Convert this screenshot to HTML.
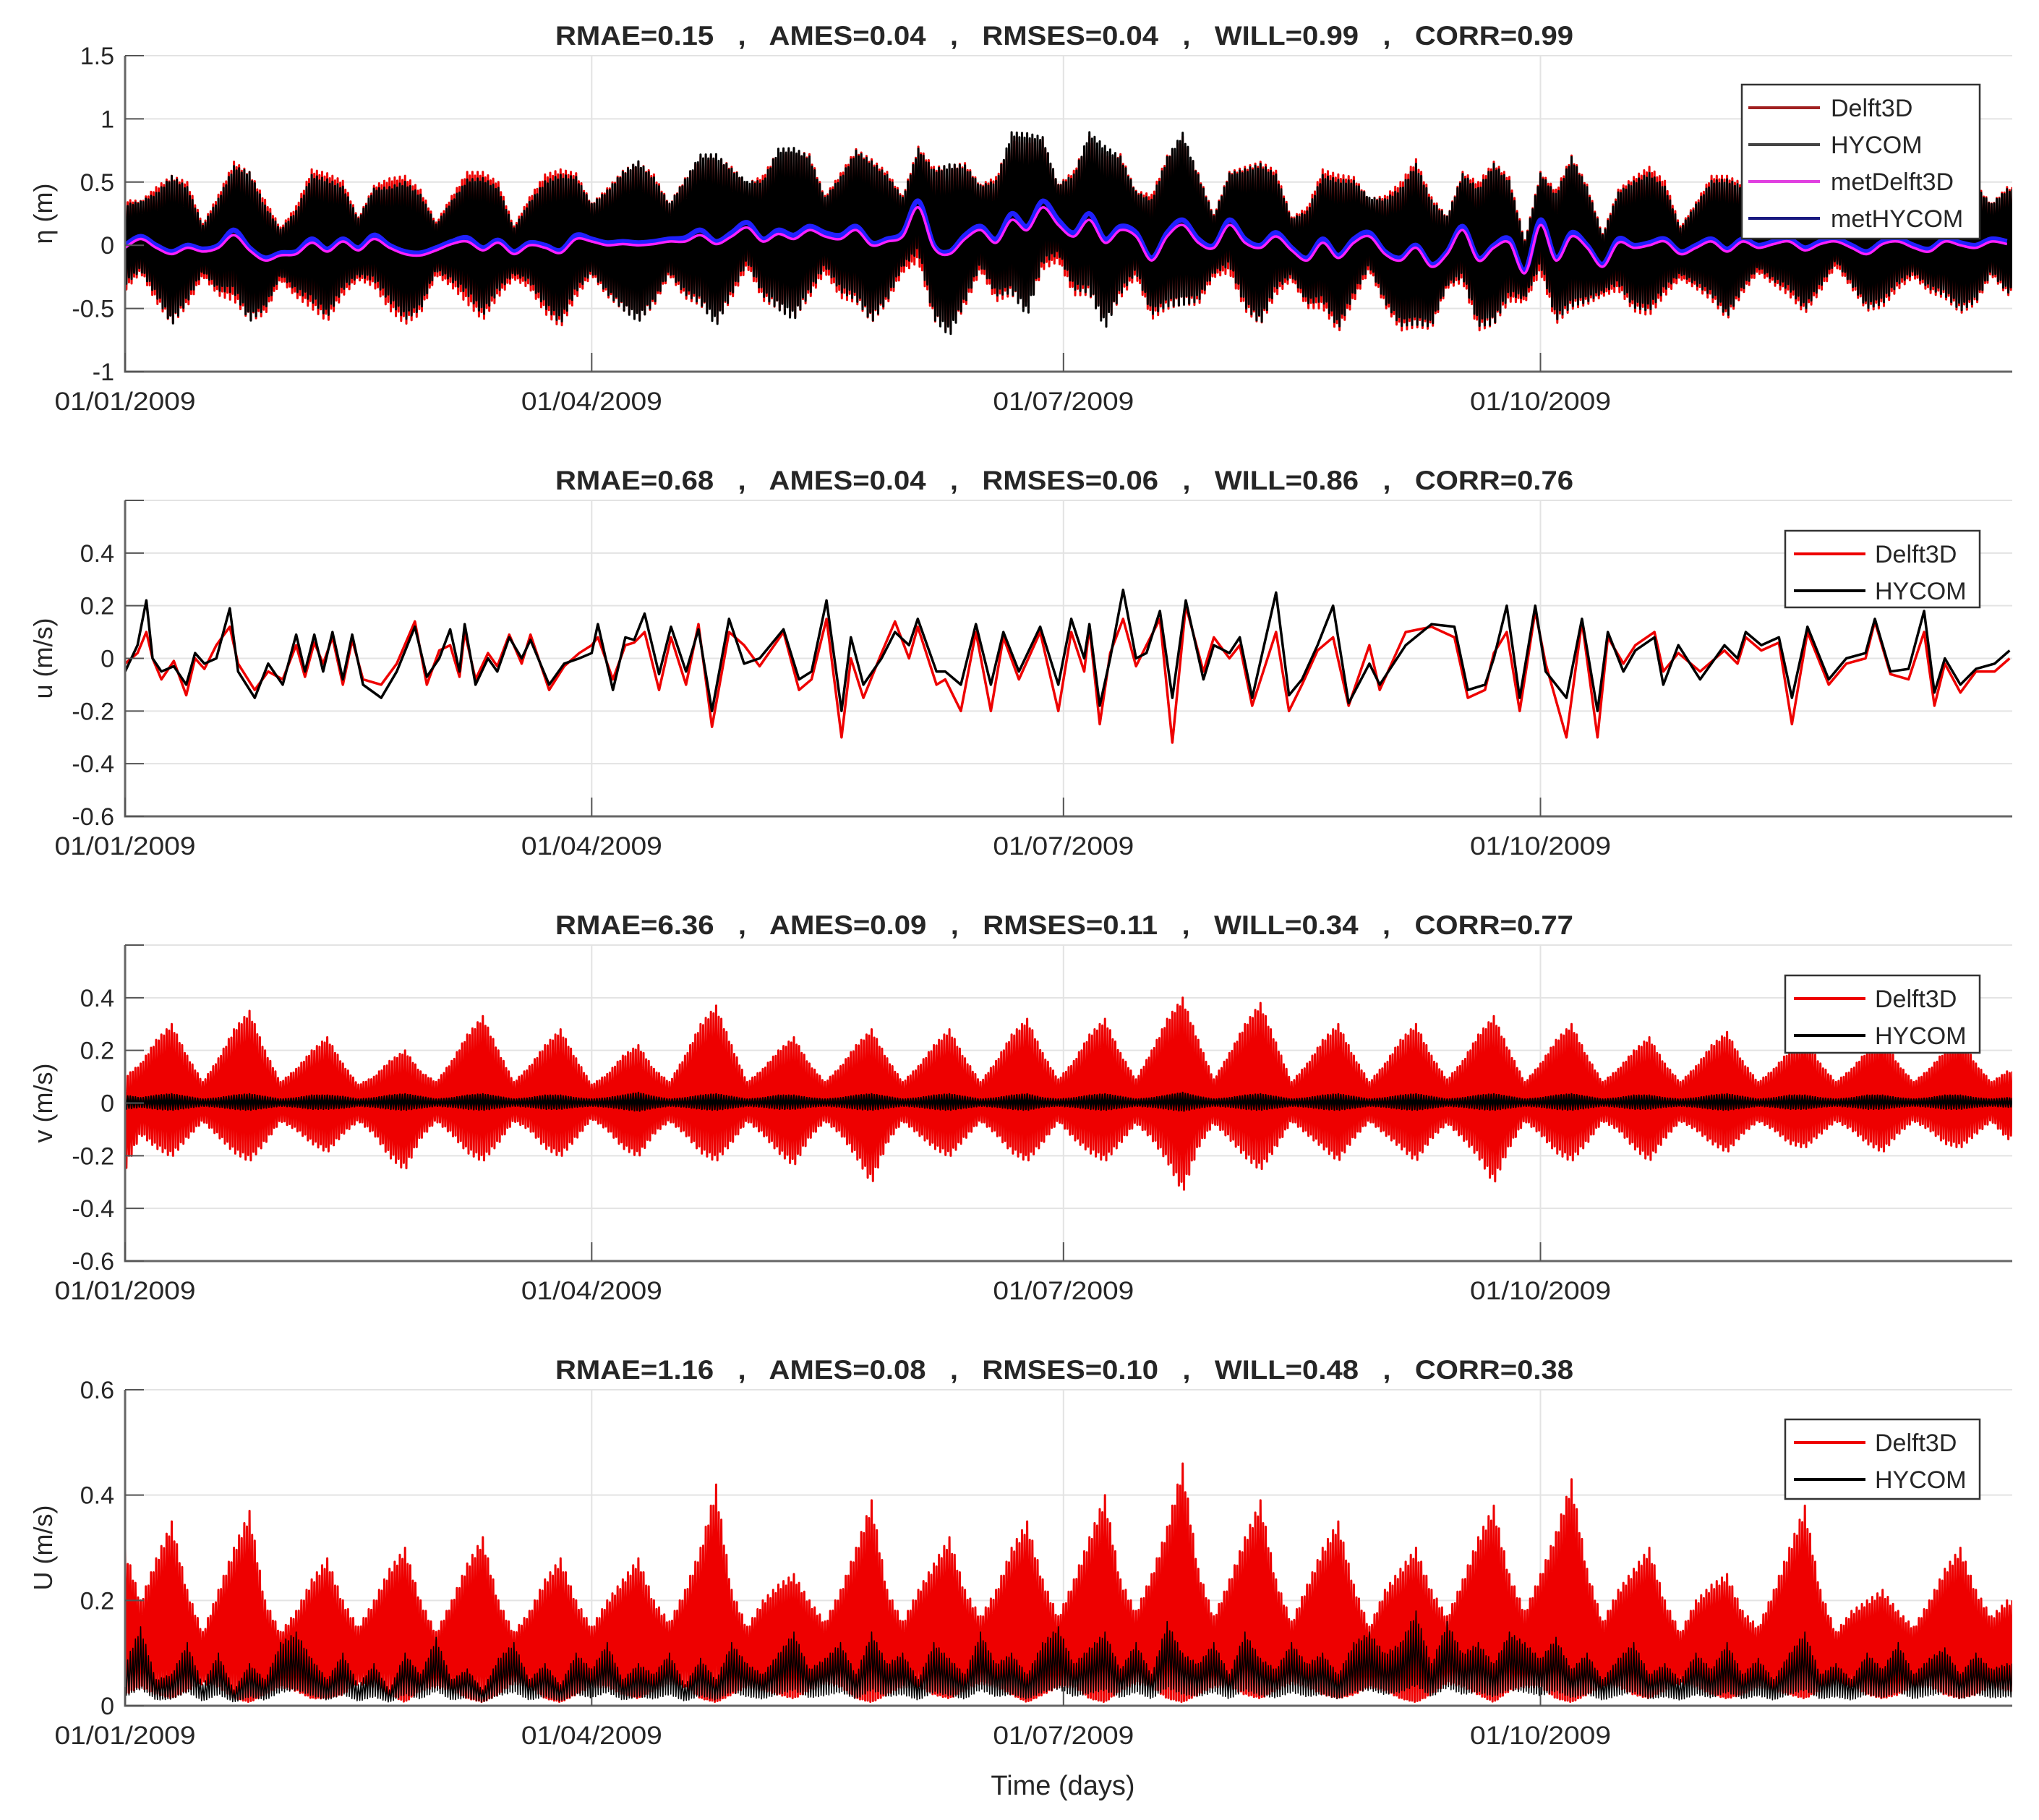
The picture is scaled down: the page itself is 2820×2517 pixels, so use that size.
<!DOCTYPE html>
<html><head><meta charset="utf-8"><style>
html,body{margin:0;padding:0;background:#fff;}
svg text{font-family:"Liberation Sans",Arial,sans-serif;fill:#262626;}
.ttl{white-space:pre;}
</style></head><body>
<svg id="fig" width="2820" height="2512" viewBox="0 0 2820 2512" xmlns="http://www.w3.org/2000/svg"></svg>
<script>
// ---------- DATA ----------
// Panel 1 (eta, m): 3-day sampled envelopes / low-pass means
const p1HycomAmp=[0.35,0.3,0.45,0.65,0.5,0.2,0.4,0.55,0.65,0.45,0.2,0.35,0.55,0.6,0.45,0.25,0.4,0.5,0.6,0.5,0.2,0.35,0.5,0.6,0.45,0.2,0.35,0.55,0.65,0.5,0.3,0.45,0.6,0.7,0.55,0.3,0.5,0.65,0.75,0.55,0.35,0.5,0.7,0.75,0.6,0.3,0.5,0.65,0.7,0.55,0.3,0.45,0.65,0.75,0.6,0.35,0.5,0.7,0.8,0.55,0.3,0.5,0.7,0.8,0.6,0.35,0.5,0.65,0.75,0.55,0.25,0.4,0.6,0.7,0.5,0.25,0.4,0.55,0.65,0.5,0.3,0.45,0.6,0.7,0.55,0.3,0.45,0.6,0.7,0.5,0.25,0.4,0.55,0.65,0.5,0.25,0.4,0.55,0.6,0.45,0.2,0.35,0.5,0.6,0.45,0.2,0.35,0.45,0.55,0.4,0.2,0.35,0.5,0.55,0.4,0.25,0.35,0.5,0.6,0.5,0.3,0.45];
const p1DelftAmp=[0.38,0.3,0.48,0.62,0.52,0.22,0.42,0.58,0.62,0.48,0.22,0.38,0.58,0.62,0.48,0.26,0.42,0.55,0.62,0.52,0.22,0.38,0.55,0.62,0.48,0.22,0.38,0.58,0.66,0.52,0.3,0.45,0.58,0.66,0.55,0.3,0.5,0.62,0.7,0.55,0.35,0.52,0.66,0.7,0.6,0.32,0.52,0.64,0.68,0.55,0.32,0.48,0.64,0.7,0.6,0.36,0.52,0.66,0.72,0.55,0.32,0.52,0.66,0.72,0.6,0.36,0.52,0.64,0.7,0.55,0.26,0.42,0.6,0.68,0.52,0.26,0.42,0.58,0.66,0.52,0.3,0.46,0.62,0.7,0.55,0.3,0.46,0.62,0.68,0.52,0.26,0.42,0.56,0.64,0.5,0.26,0.42,0.56,0.62,0.48,0.22,0.36,0.52,0.6,0.46,0.22,0.36,0.48,0.56,0.42,0.22,0.36,0.5,0.56,0.42,0.26,0.36,0.5,0.6,0.5,0.3,0.45];
const p1MetHycom=[0.0,0.07,0.0,-0.05,0.0,-0.03,0.0,0.12,-0.02,-0.1,-0.06,-0.05,0.05,-0.03,0.05,-0.02,0.08,0.0,-0.05,-0.06,-0.02,0.03,0.06,-0.02,0.04,-0.05,0.02,0.0,-0.04,0.08,0.05,0.02,0.03,0.02,0.03,0.05,0.06,0.12,0.03,0.1,0.18,0.05,0.12,0.08,0.15,0.1,0.08,0.15,0.02,0.05,0.1,0.35,0.0,-0.05,0.08,0.15,0.05,0.25,0.15,0.35,0.2,0.1,0.25,0.05,0.15,0.1,-0.1,0.1,0.2,0.05,0.0,0.2,0.05,0.0,0.1,-0.02,-0.1,0.05,-0.08,0.05,0.1,-0.05,-0.1,0.0,-0.15,-0.05,0.15,-0.1,0.0,0.05,-0.2,0.2,-0.1,0.1,0.0,-0.15,0.05,0.0,0.02,0.05,-0.05,0.0,0.05,-0.03,0.05,0.0,0.03,0.05,-0.02,0.03,0.05,0.0,-0.05,0.03,0.05,0.0,-0.03,0.05,0.02,0.0,0.05,0.03];
const p1MetDelft=[-0.02,0.05,-0.02,-0.07,-0.02,-0.05,-0.02,0.08,-0.04,-0.12,-0.08,-0.07,0.02,-0.05,0.03,-0.04,0.05,-0.02,-0.07,-0.08,-0.04,0.01,0.03,-0.04,0.02,-0.07,0.0,-0.02,-0.06,0.05,0.03,0.0,0.01,0.0,0.01,0.03,0.03,0.08,0.01,0.07,0.14,0.03,0.09,0.05,0.12,0.07,0.05,0.12,0.0,0.03,0.07,0.3,-0.02,-0.07,0.05,0.12,0.02,0.2,0.12,0.3,0.16,0.07,0.2,0.02,0.12,0.07,-0.12,0.07,0.16,0.02,-0.02,0.16,0.02,-0.02,0.07,-0.04,-0.12,0.02,-0.1,0.02,0.07,-0.07,-0.12,-0.02,-0.17,-0.07,0.12,-0.12,-0.02,0.02,-0.22,0.16,-0.12,0.07,-0.02,-0.17,0.02,-0.02,0.0,0.03,-0.07,-0.02,0.03,-0.05,0.03,-0.02,0.01,0.03,-0.04,0.01,0.03,-0.02,-0.07,0.01,0.03,-0.02,-0.05,0.03,0.0,-0.02,0.03,0.01];
// Panel 2 (u, m/s): breakpoint days and values
const p2Days=[0,2.4,4.1,5.3,7,9.4,11.8,13.5,15.3,17.6,20.2,21.8,25,27.6,30.4,33,34.7,36.5,38.2,40,42,43.8,45.9,49.4,52.4,55.9,58.2,60.6,62.7,64.5,65.5,67.6,70,71.8,74.1,76.5,78.2,81.8,84.7,87.6,90,91.2,94.1,96.5,98.2,100.2,103,105.3,108.2,110.6,113.2,116.5,119.4,122.4,127,130,132.4,135.3,138.2,140,142.4,145.9,148.5,151.2,152.9,156.5,158.2,161.2,164.1,167,169.4,172.4,176.5,180,182.5,185,186,188,190,192.5,195,197,199.6,202,204.6,208,210,213,215,217.4,222,224.5,227,230,233,236,240,242,247,252,256.4,259,262.3,264,266.5,269,272,274,278,281,284,286,289,291.3,295,296.7,299.6,303.8,308.5,311,312.6,315.6,319,321.5,324.5,328.6,332,335.7,337.5,340.5,344,347,349,351,354,357,360.6,363.5];
const p2Hycom=[-0.05,0.05,0.22,0.0,-0.05,-0.03,-0.1,0.02,-0.02,0.0,0.19,-0.05,-0.15,-0.02,-0.1,0.09,-0.05,0.09,-0.05,0.1,-0.08,0.09,-0.1,-0.15,-0.05,0.12,-0.07,0.0,0.11,-0.05,0.13,-0.1,0.0,-0.05,0.08,0.0,0.07,-0.1,-0.02,0.0,0.02,0.13,-0.12,0.08,0.07,0.17,-0.06,0.12,-0.05,0.11,-0.2,0.15,-0.02,0.0,0.11,-0.08,-0.05,0.22,-0.2,0.08,-0.1,0.0,0.1,0.05,0.15,-0.05,-0.05,-0.1,0.13,-0.1,0.1,-0.05,0.12,-0.1,0.15,0.0,0.13,-0.18,0.0,0.26,0.0,0.02,0.18,-0.15,0.22,-0.08,0.05,0.02,0.08,-0.15,0.25,-0.14,-0.08,0.05,0.2,-0.17,-0.02,-0.1,0.05,0.13,0.12,-0.12,-0.1,0.0,0.2,-0.15,0.2,-0.05,-0.15,0.15,-0.2,0.1,-0.05,0.03,0.08,-0.1,0.05,-0.08,0.05,0.0,0.1,0.05,0.08,-0.15,0.12,-0.08,0.0,0.02,0.15,-0.05,-0.04,0.18,-0.13,0.0,-0.1,-0.04,-0.02,0.03];
const p2Delft=[-0.02,0.02,0.1,0.0,-0.08,-0.01,-0.14,0.0,-0.04,0.05,0.12,-0.02,-0.12,-0.05,-0.08,0.05,-0.07,0.06,-0.02,0.08,-0.1,0.07,-0.08,-0.1,-0.02,0.14,-0.1,0.03,0.05,-0.07,0.1,-0.08,0.02,-0.03,0.09,-0.02,0.09,-0.12,-0.03,0.02,0.05,0.08,-0.08,0.05,0.06,0.1,-0.12,0.08,-0.1,0.13,-0.26,0.1,0.05,-0.03,0.1,-0.12,-0.08,0.15,-0.3,0.0,-0.15,0.02,0.14,0.0,0.12,-0.1,-0.08,-0.2,0.1,-0.2,0.08,-0.08,0.1,-0.2,0.1,-0.05,0.12,-0.25,0.02,0.15,-0.03,0.05,0.15,-0.32,0.2,-0.05,0.08,0.0,0.05,-0.18,0.1,-0.2,-0.1,0.03,0.08,-0.18,0.05,-0.12,0.1,0.12,0.08,-0.15,-0.12,0.02,0.1,-0.2,0.18,-0.02,-0.3,0.14,-0.3,0.08,-0.02,0.05,0.1,-0.05,0.02,-0.05,0.03,-0.02,0.08,0.03,0.06,-0.25,0.1,-0.1,-0.02,0.0,0.14,-0.06,-0.08,0.1,-0.18,-0.02,-0.13,-0.05,-0.05,0.0];
// Panel 3 (v, m/s): 3-day sampled envelopes
const p3DelftPos=[0.1,0.15,0.24,0.3,0.18,0.08,0.17,0.28,0.35,0.2,0.08,0.13,0.2,0.25,0.15,0.07,0.1,0.16,0.2,0.12,0.08,0.16,0.26,0.33,0.2,0.08,0.14,0.22,0.28,0.17,0.07,0.11,0.18,0.22,0.13,0.08,0.18,0.3,0.37,0.22,0.08,0.13,0.2,0.25,0.15,0.08,0.14,0.22,0.28,0.17,0.08,0.14,0.22,0.28,0.17,0.08,0.16,0.26,0.32,0.19,0.09,0.16,0.26,0.32,0.19,0.09,0.2,0.32,0.4,0.24,0.09,0.19,0.3,0.38,0.23,0.08,0.15,0.24,0.3,0.18,0.08,0.15,0.24,0.3,0.18,0.09,0.16,0.26,0.33,0.2,0.08,0.15,0.24,0.3,0.18,0.08,0.13,0.2,0.25,0.15,0.08,0.14,0.22,0.27,0.16,0.08,0.13,0.2,0.25,0.15,0.08,0.13,0.2,0.25,0.15,0.08,0.13,0.2,0.25,0.15,0.08,0.12];
const p3DelftNeg=[0.3,0.14,0.2,0.24,0.16,0.08,0.15,0.22,0.26,0.18,0.08,0.12,0.18,0.22,0.14,0.08,0.14,0.24,0.3,0.16,0.08,0.14,0.22,0.26,0.18,0.08,0.12,0.2,0.24,0.16,0.07,0.12,0.2,0.24,0.14,0.08,0.14,0.22,0.26,0.18,0.08,0.14,0.22,0.28,0.16,0.08,0.14,0.24,0.36,0.18,0.08,0.14,0.2,0.24,0.16,0.08,0.14,0.22,0.26,0.18,0.08,0.16,0.22,0.26,0.18,0.09,0.16,0.26,0.4,0.2,0.09,0.16,0.24,0.3,0.2,0.08,0.14,0.2,0.26,0.16,0.08,0.14,0.2,0.26,0.16,0.09,0.16,0.24,0.36,0.2,0.08,0.14,0.22,0.26,0.18,0.08,0.12,0.2,0.26,0.16,0.08,0.12,0.18,0.22,0.14,0.08,0.12,0.18,0.2,0.14,0.08,0.12,0.18,0.22,0.14,0.08,0.12,0.18,0.2,0.14,0.08,0.16];
const p3HycomAmp=[0.03,0.02,0.03,0.035,0.025,0.015,0.02,0.03,0.035,0.025,0.015,0.02,0.03,0.03,0.025,0.015,0.02,0.03,0.035,0.025,0.015,0.02,0.03,0.035,0.025,0.015,0.02,0.03,0.03,0.02,0.015,0.02,0.03,0.04,0.025,0.015,0.02,0.03,0.035,0.025,0.015,0.02,0.03,0.03,0.02,0.015,0.02,0.03,0.035,0.025,0.015,0.02,0.03,0.035,0.025,0.015,0.02,0.03,0.035,0.02,0.015,0.02,0.03,0.035,0.025,0.015,0.02,0.03,0.04,0.025,0.015,0.02,0.03,0.035,0.025,0.015,0.02,0.03,0.035,0.025,0.015,0.02,0.03,0.035,0.025,0.015,0.02,0.03,0.035,0.025,0.015,0.02,0.03,0.035,0.025,0.015,0.02,0.03,0.03,0.02,0.015,0.02,0.03,0.035,0.025,0.015,0.02,0.03,0.03,0.02,0.015,0.02,0.03,0.03,0.02,0.015,0.02,0.03,0.03,0.02,0.015,0.02];
// Panel 4 (U, m/s): 3-day sampled envelopes
const p4DelftHigh=[0.3,0.2,0.28,0.35,0.22,0.14,0.22,0.3,0.37,0.2,0.14,0.18,0.24,0.28,0.2,0.15,0.2,0.26,0.3,0.2,0.14,0.2,0.27,0.32,0.2,0.14,0.18,0.24,0.28,0.2,0.15,0.2,0.24,0.28,0.2,0.16,0.22,0.3,0.42,0.22,0.15,0.2,0.23,0.25,0.2,0.16,0.22,0.3,0.39,0.22,0.16,0.22,0.27,0.32,0.22,0.17,0.22,0.3,0.35,0.24,0.17,0.24,0.32,0.4,0.24,0.18,0.25,0.34,0.46,0.26,0.17,0.24,0.32,0.39,0.24,0.16,0.23,0.3,0.35,0.23,0.15,0.22,0.26,0.3,0.22,0.17,0.24,0.32,0.38,0.25,0.18,0.25,0.33,0.43,0.26,0.16,0.22,0.26,0.3,0.2,0.14,0.2,0.23,0.25,0.18,0.15,0.22,0.3,0.38,0.22,0.14,0.18,0.2,0.22,0.18,0.15,0.2,0.26,0.3,0.22,0.17,0.2];
const p4DelftLow=[0.03,0.05,0.03,0.02,0.04,0.06,0.05,0.02,0.01,0.03,0.05,0.04,0.02,0.02,0.03,0.06,0.05,0.03,0.01,0.04,0.05,0.04,0.02,0.01,0.03,0.06,0.05,0.02,0.01,0.03,0.05,0.05,0.03,0.02,0.04,0.06,0.05,0.02,0.01,0.03,0.05,0.04,0.03,0.02,0.04,0.06,0.05,0.02,0.01,0.03,0.05,0.05,0.03,0.02,0.04,0.06,0.05,0.03,0.01,0.03,0.05,0.05,0.02,0.01,0.04,0.06,0.05,0.02,0.01,0.03,0.05,0.05,0.03,0.02,0.04,0.06,0.05,0.03,0.02,0.03,0.05,0.04,0.02,0.01,0.03,0.06,0.05,0.03,0.01,0.04,0.05,0.05,0.02,0.01,0.03,0.05,0.05,0.03,0.02,0.04,0.06,0.05,0.03,0.02,0.03,0.05,0.04,0.03,0.02,0.04,0.06,0.05,0.03,0.02,0.03,0.05,0.05,0.03,0.02,0.03,0.05,0.04];
const p4Hycom=[0.08,0.15,0.05,0.06,0.12,0.04,0.1,0.03,0.08,0.05,0.12,0.14,0.09,0.05,0.1,0.04,0.08,0.03,0.1,0.06,0.13,0.05,0.07,0.03,0.09,0.12,0.05,0.08,0.04,0.1,0.07,0.12,0.05,0.08,0.06,0.1,0.04,0.09,0.05,0.12,0.08,0.06,0.1,0.14,0.07,0.09,0.12,0.06,0.14,0.08,0.1,0.05,0.12,0.09,0.06,0.14,0.08,0.1,0.06,0.12,0.15,0.08,0.11,0.14,0.07,0.12,0.06,0.16,0.1,0.08,0.12,0.06,0.14,0.09,0.07,0.12,0.08,0.1,0.06,0.12,0.14,0.1,0.12,0.18,0.08,0.16,0.1,0.12,0.08,0.14,0.12,0.09,0.13,0.07,0.1,0.05,0.09,0.12,0.06,0.08,0.05,0.1,0.07,0.12,0.06,0.09,0.05,0.1,0.14,0.06,0.08,0.05,0.1,0.07,0.12,0.06,0.09,0.11,0.06,0.1,0.07,0.08];
const xTickDays=[0,90,181,273];
const xTickLabels=["01/01/2009","01/04/2009","01/07/2009","01/10/2009"];
const titles=["RMAE=0.15   ,   AMES=0.04   ,   RMSES=0.04   ,   WILL=0.99   ,   CORR=0.99",
"RMAE=0.68   ,   AMES=0.04   ,   RMSES=0.06   ,   WILL=0.86   ,   CORR=0.76",
"RMAE=6.36   ,   AMES=0.09   ,   RMSES=0.11   ,   WILL=0.34   ,   CORR=0.77",
"RMAE=1.16   ,   AMES=0.08   ,   RMSES=0.10   ,   WILL=0.48   ,   CORR=0.38"];
const yTicks1=[-1,-0.5,0,0.5,1,1.5], yTickLabels1=["-1","-0.5","0","0.5","1","1.5"];
const yTicks2=[-0.6,-0.4,-0.2,0,0.2,0.4,0.6], yTickLabels2=["-0.6","-0.4","-0.2","0","0.2","0.4",""];
const yTicks4=[0,0.2,0.4,0.6], yTickLabels4=["0","0.2","0.4","0.6"];
</script>
<script>
const NS="http://www.w3.org/2000/svg";
const svg=document.getElementById('fig');
const X0=173,X1=2783,DMAX=364;
const xs=d=>X0+d*(X1-X0)/DMAX;
function el(tag,attrs,parent,txt){const e=document.createElementNS(NS,tag);for(const k in attrs)e.setAttribute(k,attrs[k]);if(txt!==undefined)e.textContent=txt;(parent||svg).appendChild(e);return e;}
function samp(arr,t){const p=t/3;let i=Math.floor(p);if(i>=arr.length-1)return arr[arr.length-1];const f=p-i;return arr[i]*(1-f)+arr[i+1]*f;}
const INEQ=[1,0.78,0.95,0.7];
function tidal(meanFn,ampFn,ampNegFn){let pts=[];const N=Math.round(DMAX*4);for(let k=0;k<=N;k++){const t=k/4;const up=(k%2===0);const q=INEQ[k%4];const v=up?meanFn(t)+ampFn(t)*q:meanFn(t)-ampNegFn(t)*q;pts.push([t,v]);}return pts;}
const panels=[
 {top:77,min:-1,max:1.5,ticks:yTicks1,labels:yTickLabels1,ylab:"η (m)"},
 {top:692,min:-0.6,max:0.6,ticks:yTicks2,labels:yTickLabels2,ylab:"u (m/s)"},
 {top:1307,min:-0.6,max:0.6,ticks:yTicks2,labels:yTickLabels2,ylab:"v (m/s)"},
 {top:1922,min:0,max:0.6,ticks:yTicks4,labels:yTickLabels4,ylab:"U (m/s)"}];
const H=437;
panels.forEach((P,pi)=>{
 const g=el('g',{});
 
 
 const ys=v=>P.top+H-(v-P.min)/(P.max-P.min)*H;
 P.ys=ys;P.g=g;
 P.ticks.forEach(v=>{const l=el('line',{x1:X0,x2:X1,y1:ys(v),y2:ys(v),stroke:'#e3e3e3','stroke-width':2},g);
  });
 xTickDays.forEach(d=>{const l=el('line',{x1:xs(d),x2:xs(d),y1:P.top,y2:P.top+H,stroke:'#e3e3e3','stroke-width':2},g);
  });
 const clip=el('clipPath',{id:'clip'+pi},g);el('rect',{x:X0,y:P.top,width:X1-X0,height:H},clip);
 P.plot=el('g',{'clip-path':'url(#clip'+pi+')'},g);
 
 const t=el('text',{class:'ttl',x:1472,y:P.top-15,'text-anchor':'middle','font-size':37,'font-weight':'bold',textLength:1408,lengthAdjust:'spacingAndGlyphs'},g,titles[pi]);
 
 P.ticks.forEach((v,i)=>{const tl=el('text',{x:158,y:ys(v)+12,'text-anchor':'end','font-size':34},g,P.labels[i]);
  });
 xTickDays.forEach((d,i)=>{const tl=el('text',{x:xs(d),y:P.top+H+53,'text-anchor':'middle','font-size':35,textLength:195,lengthAdjust:'spacingAndGlyphs'},g,xTickLabels[i]);
  });
 const yl=el('text',{x:0,y:0,'text-anchor':'middle','font-size':36,transform:`translate(72,${P.top+H/2}) rotate(-90)`},g,P.ylab);
 
});
function poly(P,pts,color,w,name,smooth){
 const q=pts.map(p=>[xs(p[0]),P.ys(p[1])]);let d='M'+q[0][0].toFixed(1)+' '+q[0][1].toFixed(1);
 if(smooth){for(let i=0;i<q.length-1;i++){const p0=q[Math.max(0,i-1)],p1=q[i],p2=q[i+1],p3=q[Math.min(q.length-1,i+2)];
   const c1=[p1[0]+(p2[0]-p0[0])/6,p1[1]+(p2[1]-p0[1])/6],c2=[p2[0]-(p3[0]-p1[0])/6,p2[1]-(p3[1]-p1[1])/6];
   d+='C'+c1[0].toFixed(1)+' '+c1[1].toFixed(1)+' '+c2[0].toFixed(1)+' '+c2[1].toFixed(1)+' '+p2[0].toFixed(1)+' '+p2[1].toFixed(1);}}
 else{for(let i=1;i<q.length;i++)d+='L'+q[i][0].toFixed(1)+' '+q[i][1].toFixed(1);}
 const e=el('path',{d:d,fill:'none',stroke:color,'stroke-width':w,'stroke-linejoin':'round'},P.plot);
 return e;}
const RED='#ee0000';
// Panel 1
{const P=panels[0];
 poly(P,tidal(t=>samp(p1MetDelft,t),t=>samp(p1DelftAmp,t),t=>samp(p1DelftAmp,t)*1.15),RED,3,'delft3d-eta-line');
 poly(P,tidal(t=>samp(p1MetHycom,t),t=>samp(p1HycomAmp,t)*0.92,t=>samp(p1HycomAmp,t)*1.15),'#000',3,'hycom-eta-line');
 const mh=[],md=[];for(let i=0;i<p1MetHycom.length;i++){mh.push([i*3,p1MetHycom[i]]);md.push([i*3,p1MetDelft[i]]);}
 poly(P,mh,'#2020ff',7,'methycom-line',true);
 poly(P,md,'#ff20ff',3.5,'metdelft3d-line',true);}
// Panel 2
{const P=panels[1];
 const d=p2Days.map((t,i)=>[t,p2Delft[i]]),h=p2Days.map((t,i)=>[t,p2Hycom[i]]);
 poly(P,d,RED,3.5,'delft3d-u-line');poly(P,h,'#000',3.5,'hycom-u-line');}
// Panel 3
{const P=panels[2];
 poly(P,tidal(t=>0,t=>samp(p3DelftPos,t),t=>samp(p3DelftNeg,t)*1.1),RED,3,'delft3d-v-line');
 poly(P,tidal(t=>0,t=>samp(p3HycomAmp,t),t=>samp(p3HycomAmp,t)),'#000',2.2,'hycom-v-line');}
// Panel 4
{const P=panels[3];
 poly(P,tidal(t=>0,t=>samp(p4DelftHigh,t),t=>-samp(p4DelftLow,t)),RED,3,'delft3d-speed-line');
 poly(P,tidal(t=>0,t=>samp(p4Hycom,t),t=>-samp(p4Hycom,t)*0.3),'#000',1.6,'hycom-speed-line');}
panels.forEach((P,pi)=>{const g=P.g;
 const a=el('path',{d:`M${X0} ${P.top}V${P.top+H}H${X1}`,fill:'none',stroke:'#666','stroke-width':3},g);
 
 P.ticks.forEach(v=>{const l=el('line',{x1:X0,x2:X0+26,y1:P.ys(v),y2:P.ys(v),stroke:'#555','stroke-width':2},g);
  });
 xTickDays.forEach(d=>{const l=el('line',{x1:xs(d),x2:xs(d),y1:P.top+H,y2:P.top+H-26,stroke:'#555','stroke-width':2},g);
  });
});
function legend(P,x0,y0,w,h,entries,lineX,textX){
 const g=el('g',{},P.g);
 
 el('rect',{x:x0,y:y0,width:w,height:h,fill:'#fff',stroke:'#333','stroke-width':2.5},g);
 entries.forEach((e,i)=>{const yy=y0+32+i*51;
  const l=el('line',{x1:lineX,x2:lineX+99,y1:yy,y2:yy,stroke:e[1],'stroke-width':4},g);
  
  const t=el('text',{x:textX,y:yy+12,'font-size':34},g,e[0]);
  });
}
legend(panels[0],2409,117,329,213,[["Delft3D","#a02020"],["HYCOM","#444"],["metDelft3D","#e040e0"],["metHYCOM","#1a1a80"]],2418,2532);
legend(panels[1],2469,734,269,106,[["Delft3D",RED],["HYCOM","#000"]],2481,2593);
legend(panels[2],2469,1349,269,107,[["Delft3D",RED],["HYCOM","#000"]],2481,2593);
legend(panels[3],2469,1963,269,110,[["Delft3D",RED],["HYCOM","#000"]],2481,2593);
const xt=el('text',{x:1470,y:2482,'text-anchor':'middle','font-size':38});
xt.textContent='Time (days)';


</script>
</body></html>
